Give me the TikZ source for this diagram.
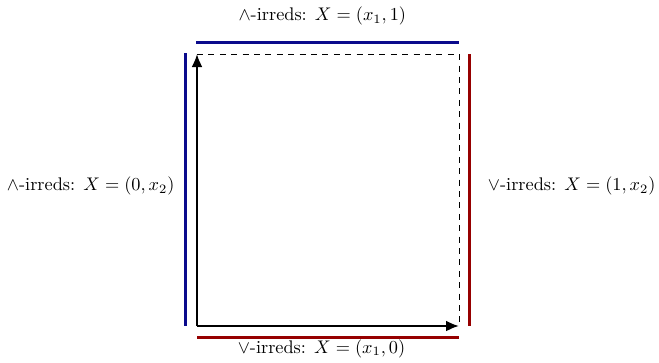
\documentclass[tikz,border=0pt]{standalone}
\usetikzlibrary{arrows.meta}
\definecolor{navyline}{RGB}{10,10,140}
\definecolor{redline}{RGB}{150,0,0}
\newlength\reflabw
\newcommand\labfactor{1.8}
\AtBeginDocument{%
  \settowidth\reflabw{$\wedge$-irreds: $X=(x_1,1)$}%
  \pgfmathsetmacro\labfactor{167.5/\reflabw}}
\newcommand\lab[1]{\scalebox{\labfactor}{#1}}
\begin{document}
\begin{tikzpicture}[x=1pt,y=-1pt,
  lbl/.style={inner sep=0pt},
  axis/.style={line width=2.2pt,-{Latex[length=13pt,width=11pt]}},
  bound/.style={line width=0.9pt,dash pattern=on 6pt off 5.4pt},
  meetline/.style={line width=2.5pt,navyline},
  joinline/.style={line width=2.5pt,redline}]
\useasboundingbox (0,0) rectangle (659,362);
\coordinate (o) at (197,326);
\coordinate (xe) at (459,326);
\coordinate (ye) at (197,54);
\coordinate (tr) at (459,54);
\draw[bound] (ye) -- (tr) -- (xe);
\draw[axis] (o) -- (xe);
\draw[axis] (o) -- (ye);
\coordinate (tl1) at (196,42.5);
\coordinate (tr1) at (459,42.5);
\coordinate (lt) at (185.5,53);
\coordinate (lb) at (185.5,326);
\coordinate (rt) at (469.5,54);
\coordinate (rb) at (469.5,326);
\coordinate (bl) at (197,337.5);
\coordinate (br) at (459,337.5);
\draw[meetline] (tl1) -- (tr1);
\draw[meetline] (lt) -- (lb);
\draw[joinline] (rt) -- (rb);
\draw[joinline] (bl) -- (br);
\node[lbl] (top) at (322.3,16.4) {\lab{$\wedge$-irreds: $X=(x_1,1)$}};
\node[lbl] (left) at (90.7,186.4) {\lab{$\wedge$-irreds: $X=(0,x_2)$}};
\node[lbl] (right) at (571.7,186.4) {\lab{$\vee$-irreds: $X=(1,x_2)$}};
\node[lbl] (bottom) at (321.5,348.5) {\lab{$\vee$-irreds: $X=(x_1,0)$}};
\end{tikzpicture}
\end{document}
